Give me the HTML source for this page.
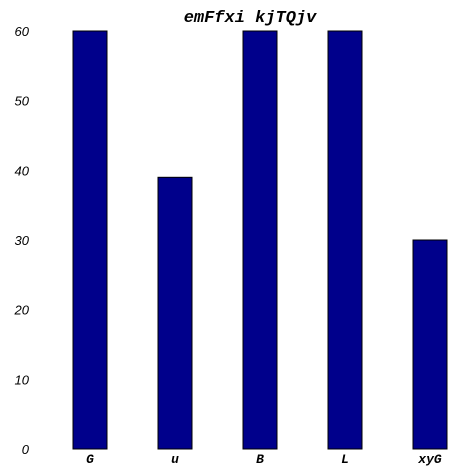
<!DOCTYPE html>
<html><head><meta charset="utf-8"><style>
html,body{margin:0;padding:0;background:#fff;width:476px;height:476px;overflow:hidden}
</style></head><body>
<svg id="chart" width="476" height="476" xmlns="http://www.w3.org/2000/svg">
<text x="250" y="22" text-anchor="middle" font-family="Liberation Mono, monospace" font-weight="bold" font-style="italic" font-size="17">emFfxi kjTQjv</text>
<g id="yaxis"></g>
<g id="bars"></g>
<g id="xaxis"></g>
</svg>
<script>
const categories = ["G","u","B","L","xyG"];
const values = [60,39,60,60,30];
const yTicks = [0,10,20,30,40,50,60];
const NS="http://www.w3.org/2000/svg";
const x0=47.5, band=85, yBase=449, yTop=31, yMax=60;
function xs(i){return x0+band*i+band/2;}
function ys(v){return yBase-(yBase-yTop)*v/yMax;}
const ya=document.getElementById('yaxis');
yTicks.forEach(t=>{
  const el=document.createElementNS(NS,'text');
  
  
  el.setAttribute('x',29);el.setAttribute('y',ys(t)+5);
  el.setAttribute('text-anchor','end');
  el.setAttribute('font-family','Liberation Sans, sans-serif');
  el.setAttribute('font-style','italic');el.setAttribute('font-size','13');
  el.textContent=t;ya.appendChild(el);
});
const bg=document.getElementById('bars'),xa=document.getElementById('xaxis');
categories.forEach((c,i)=>{
  const r=document.createElementNS(NS,'rect');
  
  
  const w=band*0.4;
  r.setAttribute('x',xs(i)-w/2);r.setAttribute('width',w);
  r.setAttribute('y',ys(values[i]));r.setAttribute('height',yBase-ys(values[i]));
  r.setAttribute('fill','#00008b');r.setAttribute('stroke','#000');r.setAttribute('stroke-width','1');
  bg.appendChild(r);
  const t=document.createElementNS(NS,'text');
  
  
  t.setAttribute('x',xs(i));t.setAttribute('y',463);
  t.setAttribute('text-anchor','middle');
  t.setAttribute('font-family','Liberation Mono, monospace');
  t.setAttribute('font-weight','bold');t.setAttribute('font-style','italic');t.setAttribute('font-size','13');
  t.textContent=c;xa.appendChild(t);
});
</script>
</body></html>
